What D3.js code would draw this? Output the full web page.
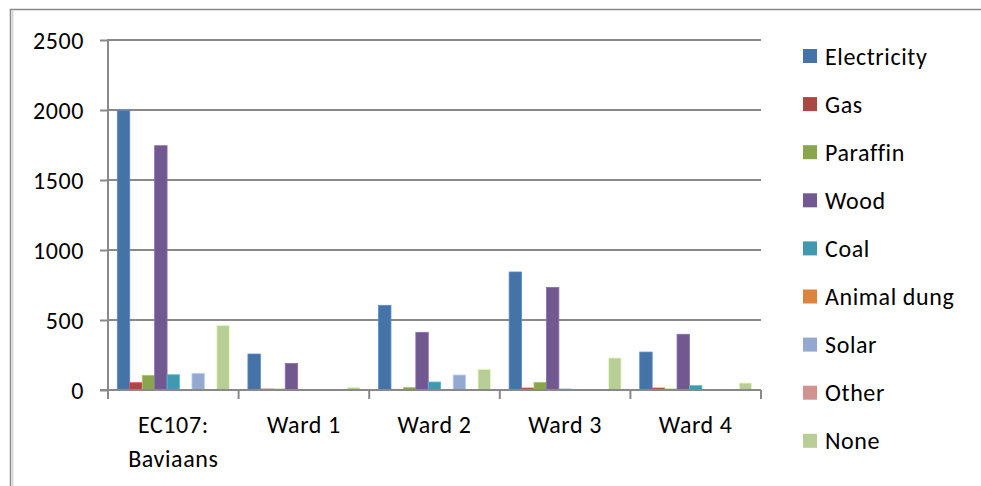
<!DOCTYPE html>
<html>
<head>
<meta charset="utf-8">
<script src="https://cdn.jsdelivr.net/npm/d3@7"></script>
<style>
  html, body { margin: 0; padding: 0; background: #fff; }
  svg text { font-family: Carlito, Calibri, Lato, sans-serif; fill: #000; letter-spacing: 0.6px; }
</style>
</head>
<body>
<svg id="chart" width="981" height="486"></svg>
<script>
// Households by main energy source used for cooking
const categories = [["EC107:", "Baviaans"], ["Ward 1"], ["Ward 2"], ["Ward 3"], ["Ward 4"]];
const seriesNames = ["Electricity", "Gas", "Paraffin", "Wood", "Coal", "Animal dung", "Solar", "Other", "None"];
const electricity = [1995, 257, 605, 843, 271];
const gas         = [52, 7, 5, 14, 14];
const paraffin    = [105, 7, 19, 55, 7];
const wood        = [1745, 190, 412, 733, 398];
const coal        = [109, 0, 57, 7, 31];
const animalDung  = [0, 0, 0, 0, 0];
const solar       = [119, 0, 107, 0, 0];
const other       = [0, 0, 0, 0, 0];
const none        = [462, 19, 148, 229, 50];
const yTicks = [0, 500, 1000, 1500, 2000, 2500];
const colors = ["#4572A7", "#AA4643", "#89A54E", "#71588F", "#4198AF", "#DB843D", "#93A9CF", "#D19392", "#B9CD96"];

const seriesValues = [electricity, gas, paraffin, wood, coal, animalDung, solar, other, none];

const svg = d3.select("#chart");
const gridColor = "#898989";
const fontSize = 24;

// chart frame (runs off the right and bottom edges)
svg.append("rect").attr("x", 10.5).attr("y", 9.5).attr("width", 1000).attr("height", 500)
  .attr("fill", "none").attr("stroke", gridColor).attr("stroke-width", 1.5);
svg.append("line").attr("x1", 12.8).attr("x2", 12.8).attr("y1", 11).attr("y2", 486)
  .attr("stroke", "#c4c4c4").attr("stroke-width", 1);

const plot = { left: 108, right: 761, top: 40, bottom: 390 };

const x = d3.scaleBand().domain(d3.range(categories.length))
  .range([plot.left, plot.right]).paddingInner(0).paddingOuter(0);
const y = d3.scaleLinear().domain([0, 2500]).range([plot.bottom, plot.top]);

// horizontal gridlines
svg.append("g").selectAll("line").data(yTicks.filter(d => d > 0)).join("line")
  .attr("x1", plot.left).attr("x2", plot.right)
  .attr("y1", d => y(d)).attr("y2", d => y(d))
  .attr("stroke", gridColor).attr("stroke-width", 2);

// bars: 9 per category plus a 150% gap
const barW = x.bandwidth() / 10.5;
seriesValues.forEach((vals, si) => {
  svg.append("g").selectAll("rect").data(vals).join("rect")
    .attr("x", (d, ci) => x(ci) + barW * (0.75 + si))
    .attr("width", barW)
    .attr("y", d => y(d))
    .attr("height", d => y(0) - y(d))
    .attr("fill", colors[si])
    .attr("stroke", d => d > 0 ? d3.color(colors[si]).brighter(0.6) : "none")
    .attr("stroke-width", 0.8);
});

// y axis
const yAxis = d3.axisLeft(y).tickValues(yTicks).tickSize(8).tickPadding(16).tickFormat(d3.format("d"));
const gy = svg.append("g").attr("transform", `translate(${plot.left},0)`).call(yAxis);
gy.select(".domain").attr("stroke", gridColor).attr("stroke-width", 2).attr("d", `M0,${plot.top - 1}V${plot.bottom}`);
gy.selectAll(".tick line").attr("stroke", gridColor).attr("stroke-width", 2);
gy.selectAll(".tick text").attr("font-size", fontSize)
  .style("font-family", "Carlito, Calibri, Lato, sans-serif").attr("fill", "#000").attr("dy", "0.34em");

// x axis baseline and category ticks
svg.append("line").attr("x1", plot.left - 8).attr("x2", plot.right)
  .attr("y1", y(0)).attr("y2", y(0)).attr("stroke", gridColor).attr("stroke-width", 2);
const boundaries = d3.range(categories.length + 1).map(i => plot.left + i * x.bandwidth());
svg.append("g").selectAll("line").data(boundaries).join("line")
  .attr("x1", d => d).attr("x2", d => d)
  .attr("y1", y(0)).attr("y2", y(0) + 9)
  .attr("stroke", gridColor).attr("stroke-width", 2);

// category labels
const catG = svg.append("g");
categories.forEach((lines, ci) => {
  const cx = x(ci) + x.bandwidth() / 2;
  const t = catG.append("text").attr("x", cx).attr("y", 433)
    .attr("text-anchor", "middle").attr("font-size", fontSize);
  lines.forEach((ln, li) => {
    t.append("tspan").attr("x", cx).attr("dy", li === 0 ? 0 : 34).text(ln);
  });
});

// legend
const lg = svg.append("g").attr("transform", "translate(803,0)");
seriesNames.forEach((name, i) => {
  const cy = 56 + i * 48.1;
  lg.append("rect").attr("x", 0).attr("y", cy - 7).attr("width", 14).attr("height", 14).attr("fill", colors[i]);
  lg.append("text").attr("x", 22).attr("y", cy + 8.5).attr("font-size", fontSize).text(name);
});
</script>
</body>
</html>
